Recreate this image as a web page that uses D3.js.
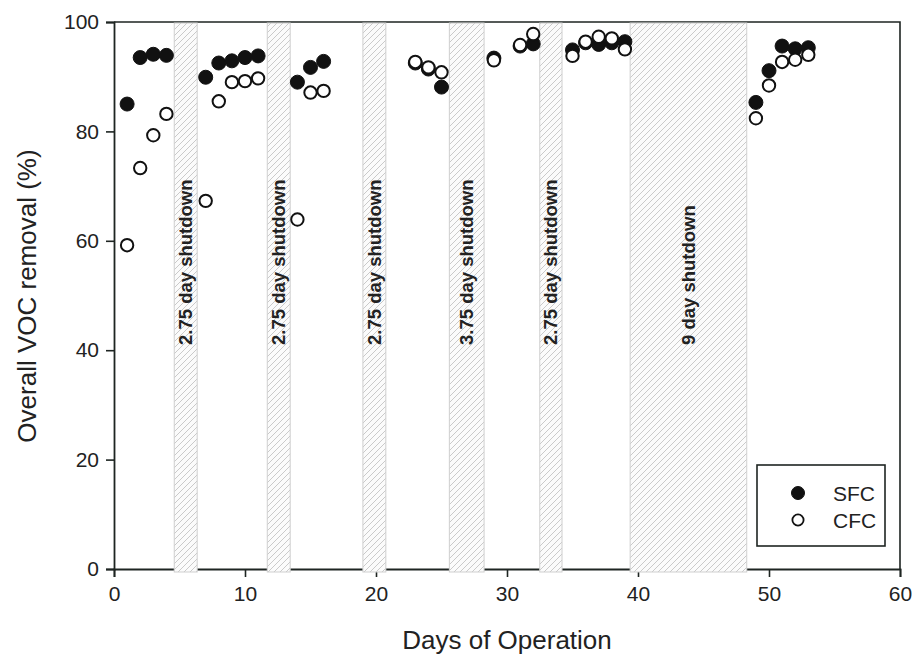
<!DOCTYPE html>
<html>
<head>
<meta charset="utf-8">
<script src="https://cdn.jsdelivr.net/npm/d3@7"></script>
<style>
  html, body { margin: 0; padding: 0; background: #ffffff; }
  svg { display: block; font-family: "Liberation Sans", Arial, sans-serif; }
</style>
</head>
<body>
<svg id="chart" width="914" height="656"></svg>
<script>
// Sampling days and overall VOC removal (%) for each filter configuration
const days = [1, 2, 3, 4, 7, 8, 9, 10, 11, 14, 15, 16, 23, 24, 25, 29, 31, 32, 35, 36, 37, 38, 39, 49, 50, 51, 52, 53];
const sfc  = [85.0, 93.5, 94.1, 93.9, 89.9, 92.5, 92.9, 93.5, 93.8, 89.0, 91.7, 92.8, 92.5, 91.4, 88.1, 93.4, 95.6, 96.0, 94.9, 96.2, 95.9, 96.2, 96.4, 85.3, 91.1, 95.6, 95.1, 95.3];
const cfc  = [59.2, 73.3, 79.3, 83.2, 67.3, 85.5, 89.0, 89.2, 89.7, 63.9, 87.1, 87.4, 92.7, 91.7, 90.8, 93.0, 95.8, 97.8, 93.8, 96.4, 97.3, 97.0, 95.0, 82.4, 88.4, 92.7, 93.1, 94.0];

// Shutdown periods (day of operation at start / end) and their labels
const shutdownStart = [4.6, 11.7, 19.0, 25.6, 32.5, 39.4];
const shutdownEnd   = [6.35, 13.45, 20.75, 28.25, 34.2, 48.3];
const shutdownLabel = ["2.75 day shutdown", "2.75 day shutdown", "2.75 day shutdown",
                       "3.75 day shutdown", "2.75 day shutdown", "9 day shutdown"];

const xTicks = [0, 10, 20, 30, 40, 50, 60];
const yTicks = [0, 20, 40, 60, 80, 100];
const seriesNames = ["SFC", "CFC"];

const svg = d3.select("#chart");
const ink = "#1e2522";

const x = d3.scaleLinear().domain([0, 60]).range([114, 900]);
const y = d3.scaleLinear().domain([0, 100]).range([569, 22]);

// diagonal hatch for shutdown bands
const defs = svg.append("defs");
const pat = defs.append("pattern")
  .attr("id", "hatch")
  .attr("patternUnits", "userSpaceOnUse")
  .attr("width", 6).attr("height", 6);
pat.append("rect").attr("width", 6).attr("height", 6).attr("fill", "#fbfbfb");
pat.append("path")
  .attr("d", "M0,6 L6,0 M-1,1 L1,-1 M5,7 L7,5")
  .attr("stroke", "#c4c4c4").attr("stroke-width", 0.9);

// frame top and right
svg.append("path")
  .attr("d", `M${x(0)},${y(100)} H${x(60)} V${y(0)}`)
  .attr("fill", "none").attr("stroke", ink).attr("stroke-width", 1.6);

// axes
const xAxis = d3.axisBottom(x).tickValues(xTicks).tickSize(8).tickPadding(9).tickFormat(d3.format("d"));
const yAxis = d3.axisLeft(y).tickValues(yTicks).tickSize(8).tickPadding(7).tickFormat(d3.format("d"));

const gx = svg.append("g").attr("transform", `translate(0,${y(0)})`).call(xAxis);
const gy = svg.append("g").attr("transform", `translate(${x(0)},0)`).call(yAxis);
[gx, gy].forEach(g => {
  g.select(".domain").attr("stroke", ink).attr("stroke-width", 1.8);
  g.selectAll(".tick line").attr("stroke", ink).attr("stroke-width", 1.6);
  g.selectAll(".tick text").attr("fill", "#222").attr("font-size", 21)
    .attr("font-family", "'Liberation Sans', Arial, sans-serif");
});

// shutdown bands drawn over the baseline
const bands = svg.append("g");
shutdownStart.forEach((s, i) => {
  const x0 = x(s), x1 = x(shutdownEnd[i]);
  bands.append("rect")
    .attr("x", x0).attr("y", y(100) + 1)
    .attr("width", x1 - x0).attr("height", y(0) - y(100) + 2)
    .attr("fill", "url(#hatch)")
    .attr("stroke", "#cfcfcf").attr("stroke-width", 1);
  bands.append("text")
    .attr("transform", `translate(${(x0 + x1) / 2},345) rotate(-90)`)
    .attr("text-anchor", "start")
    .attr("dominant-baseline", "central")
    .attr("font-size", 18.5).attr("font-weight", "bold")
    .attr("fill", "#222")
    .text(shutdownLabel[i]);
});

// data points: SFC filled, CFC open on top
const r = 7;
svg.append("g").selectAll("circle")
  .data(days.map((d, i) => [d, sfc[i]]))
  .join("circle")
  .attr("cx", d => x(d[0])).attr("cy", d => y(d[1])).attr("r", r)
  .attr("fill", "#111").attr("stroke", "#111").attr("stroke-width", 1);

svg.append("g").selectAll("circle")
  .data(days.map((d, i) => [d, cfc[i]]))
  .join("circle")
  .attr("cx", d => x(d[0])).attr("cy", d => y(d[1])).attr("r", r - 0.8)
  .attr("fill", "#fff").attr("stroke", "#111").attr("stroke-width", 2);

// legend
const lg = svg.append("g");
lg.append("rect").attr("x", 757).attr("y", 465).attr("width", 128).attr("height", 81)
  .attr("fill", "#fff").attr("stroke", ink).attr("stroke-width", 1.6);
seriesNames.forEach((name, i) => {
  const cy = 493 + i * 27;
  lg.append("circle").attr("cx", 798).attr("cy", cy).attr("r", i === 0 ? 6.5 : 5.6)
    .attr("fill", i === 0 ? "#111" : "#fff").attr("stroke", "#111").attr("stroke-width", i === 0 ? 1 : 1.8);
  lg.append("text").attr("x", 833).attr("y", cy).attr("dominant-baseline", "central")
    .attr("font-size", 21).attr("fill", "#222").text(name);
});

// axis titles
svg.append("text").attr("x", 507).attr("y", 649).attr("text-anchor", "middle")
  .attr("font-size", 26).attr("fill", "#222").text("Days of Operation");
svg.append("text").attr("transform", "translate(36,296) rotate(-90)").attr("text-anchor", "middle")
  .attr("font-size", 26).attr("fill", "#222").text("Overall VOC removal (%)");
</script>
</body>
</html>
